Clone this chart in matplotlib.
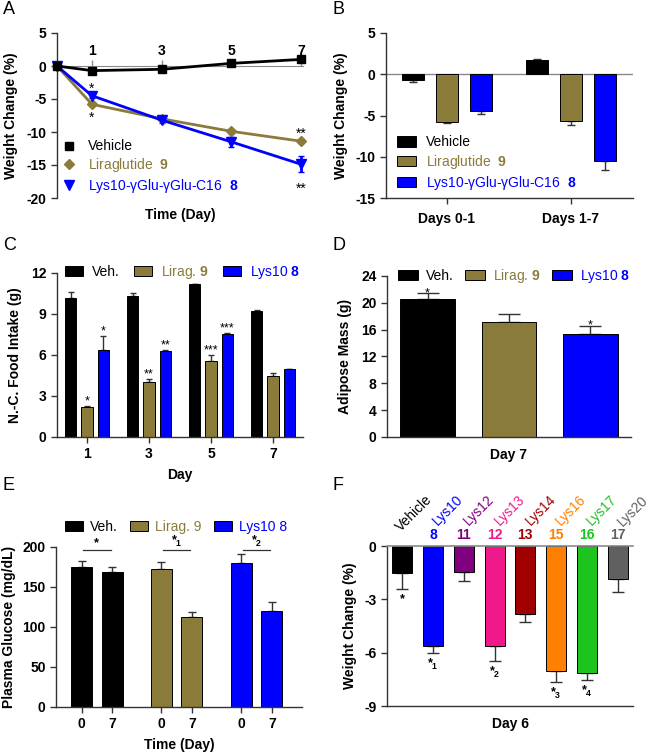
import numpy as np
import matplotlib
matplotlib.use('Agg')
import matplotlib.pyplot as plt
from matplotlib.patches import Patch
from matplotlib.lines import Line2D

plt.rcParams['font.family'] = ['Liberation Sans', 'DejaVu Sans']
plt.rcParams['font.weight'] = 'bold'
plt.rcParams['axes.labelweight'] = 'bold'
plt.rcParams['axes.unicode_minus'] = False
plt.rcParams['mathtext.fontset'] = 'custom'
plt.rcParams['mathtext.rm'] = 'Liberation Sans'
plt.rcParams['mathtext.bf'] = 'Liberation Sans:bold'
plt.rcParams['mathtext.it'] = 'Liberation Sans:italic'
plt.rcParams['mathtext.default'] = 'regular'

OLIVE = '#8B7B3A'
BLUE = '#0000FF'
AXC = '#333333'
ZERO = '#8a8a8a'
FS = 10

# ---- panel A: weight change over time
days_a = [0, 1, 3, 5, 7]
veh_a = [0, -0.7, -0.5, 0.4, 1.0]
veh_a_err = [0, 0.15, 0.15, 0.15, 0.2]
lira_a = [0, -5.8, -8.0, -9.9, -11.4]
lira_a_err = [0, 0.2, 0.3, 0.35, 0.3]
lys_a = [0, -4.5, -8.2, -11.5, -14.9]
lys_a_err = [0, 0.3, 0.45, 0.8, 1.2]

# ---- panel B: weight change by period
periods_b = ['Days 0-1', 'Days 1-7']
veh_b = [-0.7, 1.7]
veh_b_err = [0.2, 0.2]
lira_b = [-5.8, -5.7]
lira_b_err = [0.1, 0.4]
lys_b = [-4.5, -10.5]
lys_b_err = [0.3, 1.1]

# ---- panel C: food intake
days_c = [1, 3, 5, 7]
veh_c = [10.2, 10.35, 11.2, 9.2]
veh_c_err = [0.4, 0.15, 0.0, 0.1]
lira_c = [2.2, 4.0, 5.55, 4.45]
lira_c_err = [0.1, 0.25, 0.45, 0.25]
lys_c = [6.4, 6.3, 7.5, 4.95]
lys_c_err = [1.0, 0.05, 0.1, 0.03]
lira_c_sig = ['*', '**', '***', '']
lys_c_sig = ['*', '**', '***', '']

# ---- panel D: adipose mass
adipose = [20.5, 17.2, 15.4]
adipose_err = [0.9, 1.1, 1.1]
adipose_sig = ['*', '', '*']

# ---- panel E: plasma glucose
glucose_day0 = [175, 172.5, 180.4]
glucose_day0_err = [8, 9, 10.5]
glucose_day7 = [169, 113, 120.4]
glucose_day7_err = [6, 6, 10.5]
glucose_sig = ['*', '*$_1$', '*$_2$']

# ---- panel F: analog screen, day 6
analogs = ['Vehicle', 'Lys10', 'Lys12', 'Lys13', 'Lys14', 'Lys16', 'Lys17', 'Lys20']
analog_ids = ['', '8', '11', '12', '13', '15', '16', '17']
wc_day6 = [-1.5, -5.6, -1.45, -5.6, -3.8, -7.05, -7.15, -1.85]
wc_day6_err = [0.9, 0.4, 0.5, 0.85, 0.5, 0.6, 0.4, 0.75]
wc_sig = ['*', '*$_1$', '', '*$_2$', '', '*$_3$', '*$_4$', '']
analog_colors = ['#000000', '#0000FF', '#800080', '#F0198C', '#A00000',
                 '#FF8000', '#1DC41D', '#606060']

group_colors = ['black', OLIVE, BLUE]

W, H = 653, 752
fig = plt.figure(figsize=(W / 100, H / 100), dpi=100)


def px_axes(l, t, r, b):
    return fig.add_axes([l / W, 1 - b / H, (r - l) / W, (b - t) / H])


def style(ax):
    for s in ['top', 'right']:
        ax.spines[s].set_visible(False)
    for s in ['left', 'bottom']:
        ax.spines[s].set_color(AXC)
        ax.spines[s].set_linewidth(1.0)
    ax.tick_params(colors=AXC, labelcolor='black', width=1, length=4, labelsize=FS)


def one_sided(vals, errs):
    vals = np.asarray(vals, float)
    errs = np.asarray(errs, float)
    return [np.where(vals < 0, errs, 0), np.where(vals >= 0, errs, 0)]


def ylabel_at(ax, text, px_right, left, width):
    # px_right: pixel x of the label's right edge
    ax.set_ylabel(text, fontsize=FS)
    ax.yaxis.set_label_coords((px_right - left) / width, 0.5)


def color_legend(leg, colors):
    for t, c in zip(leg.get_texts(), colors):
        t.set_color(c)


def bar_err(ax, x, vals, errs, color, width, capsize):
    ax.bar(x, vals, width, color=color, edgecolor='black', linewidth=0.7, zorder=2)
    ax.errorbar(x, vals, yerr=one_sided(vals, errs), fmt='none', ecolor=AXC,
                elinewidth=1, capsize=capsize, capthick=1, zorder=1)


# ================= A
ax = px_axes(57, 33, 303, 198)
style(ax)
ax.set_xlim(0, 7.05)
ax.set_ylim(-20, 5)
ax.set_yticks([5, 0, -5, -10, -15, -20])
ax.spines['bottom'].set_visible(False)
ax.spines['top'].set_visible(True)
ax.spines['top'].set_position(('data', 0))
ax.spines['top'].set_color(ZERO)
ax.xaxis.set_ticks_position('top')
ax.xaxis.set_label_position('bottom')
ax.set_xticks([1, 3, 5, 7])
ax.tick_params(axis='x', colors=ZERO, labelcolor='black', pad=2)
ax.set_xlabel('Time (Day)', fontsize=FS, labelpad=7)
ylabel_at(ax, 'Weight Change (%)', 18, 57, 246)
ax.errorbar(days_a, veh_a, yerr=veh_a_err, color='black', marker='s', ms=6, lw=2,
            capsize=2, zorder=4, clip_on=False)
ax.errorbar(days_a, lira_a, yerr=lira_a_err, color=OLIVE, marker='D', ms=5, lw=2,
            capsize=2, zorder=3, clip_on=False)
ax.errorbar(days_a, lys_a, yerr=lys_a_err, color=BLUE, marker='v', ms=6.5, lw=2,
            capsize=2.5, zorder=3, clip_on=False)
ax.annotate('*', (days_a[1], lys_a[1]), xytext=(0, 0), textcoords='offset points',
            ha='center', va='bottom', fontsize=FS, weight='normal')
ax.annotate('*', (days_a[1], lira_a[1]), xytext=(0, -5), textcoords='offset points',
            ha='center', va='top', fontsize=FS, weight='normal')
ax.annotate('**', (days_a[-1], lira_a[-1]), xytext=(0, 0), textcoords='offset points',
            ha='center', va='bottom', fontsize=FS, weight='normal')
ax.annotate('**', (days_a[-1], lys_a[-1] - lys_a_err[-1]), xytext=(0, -7),
            textcoords='offset points', ha='center', va='top', fontsize=FS, weight='normal')
handles = [Line2D([], [], ls='none', marker='s', color='black', ms=6),
           Line2D([], [], ls='none', marker='D', color=OLIVE, ms=5),
           Line2D([], [], ls='none', marker='v', color=BLUE, ms=6.5)]
leg = ax.legend(handles, ['Vehicle', r'Liraglutide  $\mathbf{9}$',
                          r'Lys10-γGlu-γGlu-C16  $\mathbf{8}$'],
                loc='upper left', bbox_to_anchor=(0.016, 0.355), frameon=False,
                prop={'size': FS, 'weight': 'normal'}, handlelength=1.2,
                handletextpad=0.75, labelspacing=0.2, borderpad=0, borderaxespad=0)
color_legend(leg, group_colors)

# ================= B
ax = px_axes(386, 33, 633, 198)
style(ax)
xb = np.arange(len(periods_b))
ax.set_xlim(-0.49, 1.5)
ax.set_ylim(-15, 5)
ax.set_yticks([5, 0, -5, -10, -15])
ax.set_xticks(xb)
ax.set_xticklabels(periods_b)
ax.tick_params(axis='x', pad=6)
ax.axhline(0, color=ZERO, lw=1, zorder=0)
ylabel_at(ax, 'Weight Change (%)', 348, 386, 247)
for k, (vals, errs) in enumerate([(veh_b, veh_b_err), (lira_b, lira_b_err), (lys_b, lys_b_err)]):
    bar_err(ax, xb + (k - 1) * 0.274, vals, errs, group_colors[k], 0.18, 3)
handles = [Patch(facecolor=c, edgecolor='black', lw=0.7) for c in group_colors]
leg = ax.legend(handles, ['Vehicle', r'Liraglutide  $\mathbf{9}$',
                          r'Lys10-γGlu-γGlu-C16  $\mathbf{8}$'],
                loc='upper left', bbox_to_anchor=(0.045, 0.38), frameon=False,
                prop={'size': FS, 'weight': 'normal'}, handlelength=1.35, handleheight=0.75,
                handletextpad=0.75, labelspacing=0.25, borderpad=0, borderaxespad=0)
color_legend(leg, group_colors)

# ================= C
ax = px_axes(57, 273, 303, 437)
style(ax)
xc = np.array(days_c, float)
ax.set_xlim(0.03, 7.97)
ax.set_ylim(0, 12)
ax.set_yticks([0, 3, 6, 9, 12])
ax.set_xticks(days_c)
ax.set_xlabel('Day', fontsize=FS, labelpad=5)
ylabel_at(ax, 'N.-C. Food Intake (g)', 22, 57, 246)
series_c = [(veh_c, veh_c_err), (lira_c, lira_c_err), (lys_c, lys_c_err)]
for k, (vals, errs) in enumerate(series_c):
    bar_err(ax, xc + (k - 1) * 0.53, vals, errs, group_colors[k], 0.37, 2)
for k, sig in [(1, lira_c_sig), (2, lys_c_sig)]:
    vals, errs = series_c[k]
    for x, v, e, s in zip(xc, vals, errs, sig):
        if s:
            ax.annotate(s, (x + (k - 1) * 0.53, v + e), xytext=(0, -1),
                        textcoords='offset points', ha='center', va='bottom',
                        fontsize=9, weight='normal')
handles = [Patch(facecolor=c, edgecolor='black', lw=0.7) for c in group_colors]
leg = ax.legend(handles, ['Veh.', r'Lirag. $\mathbf{9}$', r'Lys10 $\mathbf{8}$'],
                loc='center left', bbox_to_anchor=(0.033, 1.005), ncol=3, frameon=False,
                prop={'size': FS, 'weight': 'normal'}, handlelength=1.3, handleheight=0.75,
                handletextpad=0.65, columnspacing=1.0, borderpad=0, borderaxespad=0)
color_legend(leg, group_colors)

# ================= D
ax = px_axes(387, 276, 631, 437)
style(ax)
xd = np.arange(len(adipose))
ax.set_xlim(-0.5, 2.5)
ax.set_ylim(0, 24)
ax.set_yticks([0, 4, 8, 12, 16, 20, 24])
ax.set_xticks([])
ax.set_xlabel('Day 7', fontsize=FS, labelpad=8)
ylabel_at(ax, 'Adipose Mass (g)', 352, 387, 244)
for k in range(3):
    bar_err(ax, [xd[k]], [adipose[k]], [adipose_err[k]], group_colors[k], 0.67, 8)
for x, v, e, s in zip(xd, adipose, adipose_err, adipose_sig):
    if s:
        ax.annotate(s, (x, v + e), xytext=(0, -4), textcoords='offset points',
                    ha='center', va='bottom', fontsize=9, weight='normal')
handles = [Patch(facecolor=c, edgecolor='black', lw=0.7) for c in group_colors]
leg = ax.legend(handles, ['Veh.', r'Lirag. $\mathbf{9}$', r'Lys10 $\mathbf{8}$'],
                loc='center left', bbox_to_anchor=(0.045, 1.0), ncol=3, frameon=False,
                prop={'size': FS, 'weight': 'normal'}, handlelength=1.42, handleheight=0.75,
                handletextpad=0.58, columnspacing=0.84, borderpad=0, borderaxespad=0)
color_legend(leg, group_colors)

# ================= E
ax = px_axes(56, 547, 302, 707)
style(ax)
ge = np.arange(3) * 2.62
ax.set_xlim(-0.84, 7.23)
ax.set_ylim(0, 200)
ax.set_yticks([0, 50, 100, 150, 200])
ax.set_xticks(np.concatenate([ge, ge + 1]))
ax.set_xticklabels(['0'] * 3 + ['7'] * 3)
ax.set_xlabel('Time (Day)', fontsize=FS, labelpad=5)
ylabel_at(ax, 'Plasma Glucose (mg/dL)', 16, 56, 246)
for k in range(3):
    bar_err(ax, [ge[k], ge[k] + 1], [glucose_day0[k], glucose_day7[k]],
            [glucose_day0_err[k], glucose_day7_err[k]], group_colors[k], 0.69, 3)
    ax.plot([ge[k] + 0.05, ge[k] + 0.95], [196, 196], color=AXC, lw=0.9, clip_on=False)
    ax.text(ge[k] + 0.5, 197, glucose_sig[k], ha='center', va='bottom', fontsize=9)
handles = [Patch(facecolor=c, edgecolor='black', lw=0.7) for c in group_colors]
leg = ax.legend(handles, ['Veh.', 'Lirag. 9', 'Lys10 8'],
                loc='center left', bbox_to_anchor=(0.037, 1.125), ncol=3, frameon=False,
                prop={'size': FS, 'weight': 'normal'}, handlelength=1.3, handleheight=0.75,
                handletextpad=0.5, columnspacing=0.9, borderpad=0, borderaxespad=0)
color_legend(leg, group_colors)

# ================= F
ax = px_axes(387, 546, 633, 706)
style(ax)
xf = np.arange(len(analogs))
ax.set_xlim(-0.5, len(analogs) - 0.5)
ax.set_ylim(-9, 0)
ax.set_yticks([0, -3, -6, -9])
ax.set_xticks([])
ax.axhline(0, color=ZERO, lw=1.2, zorder=3, clip_on=False)
ax.set_xlabel('Day 6', fontsize=FS, labelpad=8)
ylabel_at(ax, 'Weight Change (%)', 357, 387, 246)
trans = ax.get_xaxis_transform()
for k in range(len(analogs)):
    bar_err(ax, [xf[k]], [wc_day6[k]], [wc_day6_err[k]], analog_colors[k], 0.65, 4)
    if wc_sig[k]:
        ax.annotate(wc_sig[k], (xf[k], wc_day6[k] - wc_day6_err[k]), xytext=(0, -3),
                    textcoords='offset points', ha='center', va='top', fontsize=9)
    ax.text(xf[k], 1.069, analog_ids[k], transform=trans, ha='center', va='center',
            fontsize=FS, color=analog_colors[k])
    ax.text(xf[k] + 1.0, 1.285, analogs[k], transform=trans, ha='right', va='baseline',
            rotation=45, rotation_mode='anchor', fontsize=FS, weight='normal',
            color=analog_colors[k])

# panel letters
for letter, x, y in [('A', 3, 1), ('B', 332, 1), ('C', 3, 237), ('D', 332, 237),
                     ('E', 3, 477), ('F', 332, 477)]:
    fig.text(x / W, 1 - y / H, letter, fontsize=13, weight='normal', va='top', ha='left')

fig.savefig('out.png', dpi=100)
